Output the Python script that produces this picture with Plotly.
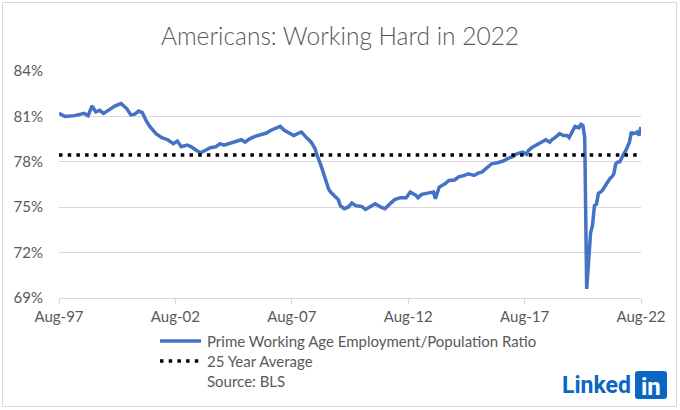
import plotly.graph_objects as go

# ---- data ----
months = [
    "1997-08", "1997-11", "1998-04", "1998-09", "1998-11", "1999-01", "1999-03", "1999-05", "1999-07", "1999-10",
    "2000-01", "2000-04", "2000-07", "2000-09", "2000-11", "2001-01", "2001-03", "2001-05", "2001-07", "2001-10",
    "2002-01", "2002-04", "2002-07", "2002-09", "2002-11", "2003-02", "2003-04", "2003-07", "2003-09", "2003-12",
    "2004-02", "2004-05", "2004-07", "2004-09", "2004-12", "2005-03", "2005-06", "2005-08", "2005-10", "2006-01",
    "2006-03", "2006-04", "2006-07", "2006-09", "2006-12", "2007-02", "2007-04", "2007-07", "2007-09", "2007-11",
    "2008-01", "2008-03", "2008-06", "2008-08", "2008-09", "2008-11", "2009-01", "2009-03", "2009-04", "2009-06",
    "2009-08", "2009-09", "2009-11", "2010-01", "2010-03", "2010-05", "2010-08", "2010-10", "2011-01", "2011-03",
    "2011-06", "2011-08", "2011-11", "2012-01", "2012-04", "2012-07", "2012-09", "2012-12", "2013-01", "2013-03",
    "2013-06", "2013-09", "2013-10", "2013-12", "2014-03", "2014-05", "2014-08", "2014-10", "2015-01", "2015-03",
    "2015-06", "2015-08", "2015-10", "2016-01", "2016-03", "2016-06", "2016-09", "2016-11", "2017-02", "2017-04",
    "2017-07", "2017-09", "2017-10", "2017-12", "2018-03", "2018-05", "2018-07", "2018-09", "2018-10", "2018-12",
    "2019-02", "2019-04", "2019-06", "2019-07", "2019-09", "2019-10", "2019-12", "2020-01", "2020-02", "2020-03",
    "2020-04", "2020-05", "2020-06", "2020-07", "2020-08", "2020-09", "2020-10", "2020-11", "2020-12", "2021-01",
    "2021-02", "2021-03", "2021-04", "2021-05", "2021-06", "2021-07", "2021-08", "2021-09", "2021-10", "2021-11",
    "2021-12", "2022-01", "2022-02", "2022-03", "2022-04", "2022-05", "2022-06", "2022-07", "2022-08",
]
epop_ratio = [
    81.2, 81.0, 81.05, 81.2, 81.05, 81.7, 81.3, 81.4, 81.2, 81.45,
    81.7, 81.85, 81.5, 81.1, 81.15, 81.35, 81.25, 80.7, 80.3, 79.86,
    79.6, 79.46, 79.2, 79.37, 79.0, 79.1, 79.0, 78.75, 78.6, 78.8,
    78.93, 79.0, 79.2, 79.1, 79.24, 79.37, 79.46, 79.3, 79.5, 79.68,
    79.74, 79.8, 79.9, 80.07, 80.25, 80.34, 80.1, 79.9, 79.74, 79.86,
    79.97, 79.68, 79.3, 78.86, 78.42, 77.76, 77.0, 76.2, 76.0, 75.78,
    75.5, 75.1, 74.9, 75.0, 75.27, 75.1, 75.05, 74.85, 75.1, 75.23,
    75.0, 74.9, 75.27, 75.5, 75.63, 75.63, 76.0, 75.78, 75.63, 75.85,
    75.93, 76.0, 75.56, 76.33, 76.55, 76.77, 76.8, 77.0, 77.1, 77.2,
    77.1, 77.25, 77.32, 77.65, 77.87, 77.94, 78.05, 78.2, 78.36, 78.53,
    78.64, 78.49, 78.75, 78.97, 79.2, 79.3, 79.46, 79.3, 79.46, 79.63,
    79.86, 79.74, 79.74, 79.6, 80.19, 80.34, 80.25, 80.47, 80.4, 79.6,
    69.6, 71.6, 73.3, 73.8, 75.1, 75.2, 75.9, 76.0, 76.1, 76.3,
    76.5, 76.77, 76.9, 77.0, 77.2, 77.87, 77.98, 78.0, 78.3, 78.5,
    78.7, 78.97, 79.3, 79.97, 79.86, 79.9, 79.97, 79.74, 80.3,
]
avg_months = ["1997-08", "2022-08"]
avg_value = 78.45

x_tick_vals = ["1997-08-01", "2002-08-01", "2007-08-01", "2012-08-01", "2017-08-01", "2022-08-01"]
x_tick_text = ["Aug-97", "Aug-02", "Aug-07", "Aug-12", "Aug-17", "Aug-22"]
y_tick_vals = [69, 72, 75, 78, 81, 84]
y_tick_text = ["69%", "72%", "75%", "78%", "81%", "84%"]

series_name = "Prime Working Age Employment/Population Ratio"
avg_name = "25 Year Average"
source_name = "Source: BLS"

# ---- layout helpers (pixel geometry) ----
W, H = 680, 410
L, R, T, B = 59, 39, 71, 112
PW, PH = W - L - R, H - T - B


def px(xp):
    return (xp - L) / PW


def py(yp):
    return (H - B - yp) / PH


GRAY_TXT = "#595959"
GRID = "#d9d9d9"
FONT = "Lato"
BLUE = "#4472C4"
LINE_W = 3.5
DOT_DASH = "3.5px,5.2px"

fig = go.Figure()
fig.add_trace(go.Scatter(
    x=[m + "-01" for m in months], y=epop_ratio, mode="lines", name=series_name,
    line=dict(color=BLUE, width=LINE_W), showlegend=False,
))
fig.add_trace(go.Scatter(
    x=[m + "-01" for m in avg_months], y=[avg_value] * len(avg_months), mode="lines", name=avg_name,
    line=dict(color="black", width=LINE_W, dash=DOT_DASH), showlegend=False,
))

fig.update_layout(
    template="none",
    width=W, height=H,
    margin=dict(l=L, r=R, t=T, b=B, pad=0, autoexpand=False),
    paper_bgcolor="white", plot_bgcolor="white",
    font=dict(family=FONT, color=GRAY_TXT, size=15),
    title=dict(text="Americans: Working Hard in 2022", x=0.5, xanchor="center", xref="container",
               y=1 - 36 / H, yanchor="middle",
               font=dict(family=FONT, size=24.5, color=GRAY_TXT, weight=300)),
    showlegend=False,
    xaxis=dict(type="date", range=["1997-08-01", "2022-08-01"],
               tickvals=x_tick_vals, ticktext=x_tick_text,
               showgrid=False, showline=True, linecolor=GRID, linewidth=1,
               ticks="outside", ticklen=5, tickcolor=GRID, tickwidth=1,
               tickfont=dict(family=FONT, size=15, color=GRAY_TXT), zeroline=False),
    yaxis=dict(range=[69, 84], tickvals=y_tick_vals, ticktext=y_tick_text,
               showgrid=True, gridcolor=GRID, gridwidth=1, zeroline=False,
               showline=False, ticks="", ticklabelstandoff=15,
               tickfont=dict(family=FONT, size=15, color=GRAY_TXT)),
)

# outer frame
fig.add_shape(type="rect", xref="paper", yref="paper",
              x0=px(2.5), x1=px(676.5), y0=py(406.5), y1=py(2.5),
              line=dict(color=GRID, width=1), fillcolor="rgba(0,0,0,0)", layer="below")

# legend (drawn manually)
legend_rows = [(series_name, dict(color=BLUE, width=LINE_W)),
               (avg_name, dict(color="black", width=LINE_W, dash=DOT_DASH)),
               (source_name, None)]
for i, (label, style) in enumerate(legend_rows):
    yy = 341 + 20 * i
    if style is not None:
        fig.add_shape(type="line", xref="paper", yref="paper",
                      x0=px(160), x1=px(201), y0=py(yy), y1=py(yy), line=style)
    fig.add_annotation(xref="paper", yref="paper", x=px(205), y=py(yy), xanchor="left", yanchor="middle",
                       text=label, showarrow=False,
                       font=dict(family=FONT, size=15, color=GRAY_TXT))

# LinkedIn logo
fig.add_annotation(xref="paper", yref="paper", x=px(633), y=py(385), xanchor="right", yanchor="middle",
                   text="<b>Linked</b>", showarrow=False,
                   font=dict(family="Roboto", size=23, color="#0A66C2"))
bx0, bx1, by0, by1, r = 635, 667, 371, 399, 3
path = (f"M {px(bx0 + r)},{py(by0)} L {px(bx1 - r)},{py(by0)} Q {px(bx1)},{py(by0)} {px(bx1)},{py(by0 + r)} "
        f"L {px(bx1)},{py(by1 - r)} Q {px(bx1)},{py(by1)} {px(bx1 - r)},{py(by1)} "
        f"L {px(bx0 + r)},{py(by1)} Q {px(bx0)},{py(by1)} {px(bx0)},{py(by1 - r)} "
        f"L {px(bx0)},{py(by0 + r)} Q {px(bx0)},{py(by0)} {px(bx0 + r)},{py(by0)} Z")
fig.add_shape(type="path", xref="paper", yref="paper", path=path,
              fillcolor="#0A66C2", line=dict(width=0))
fig.add_annotation(xref="paper", yref="paper", x=px(651), y=py(387), xanchor="center", yanchor="middle",
                   text="<b>in</b>", showarrow=False,
                   font=dict(family="Roboto", size=24, color="white"))

fig.write_html("out.html", config={"displayModeBar": False},
               post_script="document.body.style.margin='0px';document.body.style.overflow='hidden';")
